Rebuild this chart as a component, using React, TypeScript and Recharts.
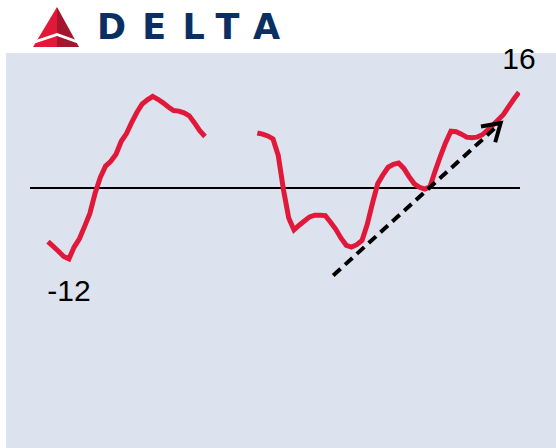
import React from "react"
import {
  ComposedChart,
  Line,
  XAxis,
  YAxis,
  ReferenceLine,
  ReferenceDot,
} from "recharts"

// weekly readings, before and after the break in the series
const firstStretch = [
  -9.1, -9.9, -10.7, -11.6, -12.0, -10.0, -8.6, -6.5, -4.3, -0.9, 1.8, 3.7, 4.5, 5.7, 7.9, 9.2,
  11.1, 12.8, 14.2, 14.9, 15.5, 15.0, 14.4, 13.7, 13.1, 13.0, 12.7, 12.2, 11.0, 9.7, 8.7,
]
const gapLength = 9
const secondStretch = [
  9.3, 9.1, 8.8, 8.3, 5.5, -0.3, -5.1, -7.1, -6.3, -5.6, -4.9, -4.6, -4.6, -4.7, -5.8, -7.0,
  -8.5, -9.7, -10.0, -9.6, -8.9, -6.2, -2.6, 0.7, 2.2, 3.5, 4.0, 4.2, 3.3, 1.9, 0.7, 0.1, -0.2,
  0.2, 2.9, 5.4, 7.7, 9.6, 9.5, 9.1, 8.6, 8.5, 8.6, 9.0, 9.8, 10.6, 11.5, 12.4, 13.7, 15.0, 16.2,
]

// trend arrow drawn over the recovery (start, end)
const trendArrow = [
  { x: 54.5, y: -14.8 },
  { x: 86.5, y: 11.0 },
]

const minLabel = "-12"
const lastLabel = "16"

const RED = "#E0193A"
const NAVY = "#0B2F63"
const FONT = "'Liberation Sans', Arial, sans-serif"

const values: (number | null)[] = [
  ...firstStretch,
  ...Array(gapLength).fill(null),
  ...secondStretch,
]
const data = values.map((v, i) => ({ t: i, v }))

let minIdx = 0
values.forEach((v, i) => {
  if (v !== null && v < (values[minIdx] as number)) minIdx = i
})
const lastIdx = values.length - 1

function ArrowShape(props: any) {
  const { x1, y1, x2, y2 } = props
  const ang = Math.atan2(y2 - y1, x2 - x1)
  const len = 20
  const spread = (32 * Math.PI) / 180
  const wa = { x: x2 - len * Math.cos(ang - spread), y: y2 - len * Math.sin(ang - spread) }
  const wb = { x: x2 - len * Math.cos(ang + spread), y: y2 - len * Math.sin(ang + spread) }
  return (
    <g>
      <line x1={x1} y1={y1} x2={x2} y2={y2} stroke="#000" strokeWidth={4} strokeDasharray="10 6" />
      <polyline
        points={`${wa.x},${wa.y} ${x2},${y2} ${wb.x},${wb.y}`}
        fill="none"
        stroke="#000"
        strokeWidth={4}
      />
    </g>
  )
}

function Logo() {
  return (
    <svg width={300} height={52} style={{ position: "absolute", left: 0, top: 0 }}>
      <polygon points="57,7 33,47 57,47" fill="#E31837" />
      <polygon points="57,7 57,47 79,47" fill="#A3162E" />
      <polygon points="30,42 57,33 82,42 82,45 57,36 30,45" fill="#fff" />
      <text
        x={97}
        y={39}
        fontSize={35}
        fontWeight="bold"
        fill={NAVY}
        fontFamily="'DejaVu Sans', sans-serif"
        textLength={183}
        lengthAdjust="spacing"
      >
        DELTA
      </text>
    </svg>
  )
}

export default function App() {
  return (
    <div style={{ position: "absolute", left: 0, top: 0, width: 556, height: 448, background: "#fff" }}>
      <Logo />
      <div
        style={{ position: "absolute", left: 6, top: 53, width: 550, height: 395, background: "#DDE3EE" }}
      />
      <div style={{ position: "absolute", left: 0, top: 0 }}>
        <ComposedChart
          width={556}
          height={448}
          data={data}
          margin={{ top: 52, right: 36, bottom: 0, left: 30 }}
        >
          <XAxis dataKey="t" type="number" domain={[-3.44, 90.2]} hide allowDataOverflow />
          <YAxis type="number" domain={[-44, 23]} hide allowDataOverflow />
          <ReferenceLine y={0} stroke="#000" strokeWidth={2} />
          <Line
            dataKey="v"
            type="linear"
            stroke={RED}
            strokeWidth={5}
            dot={false}
            activeDot={false}
            isAnimationActive={false}
          />
          <ReferenceLine segment={trendArrow} shape={ArrowShape} />
          <ReferenceDot
            x={minIdx}
            y={values[minIdx] as number}
            r={0}
            fill="none"
            stroke="none"
            label={{ value: minLabel, position: "bottom", offset: 21, fontSize: 30, fill: "#000", fontFamily: FONT }}
          />
          <ReferenceDot
            x={lastIdx}
            y={values[lastIdx] as number}
            r={0}
            fill="none"
            stroke="none"
            label={{ value: lastLabel, position: "top", offset: 23, fontSize: 30, fill: "#000", fontFamily: FONT }}
          />
        </ComposedChart>
      </div>
    </div>
  )
}
